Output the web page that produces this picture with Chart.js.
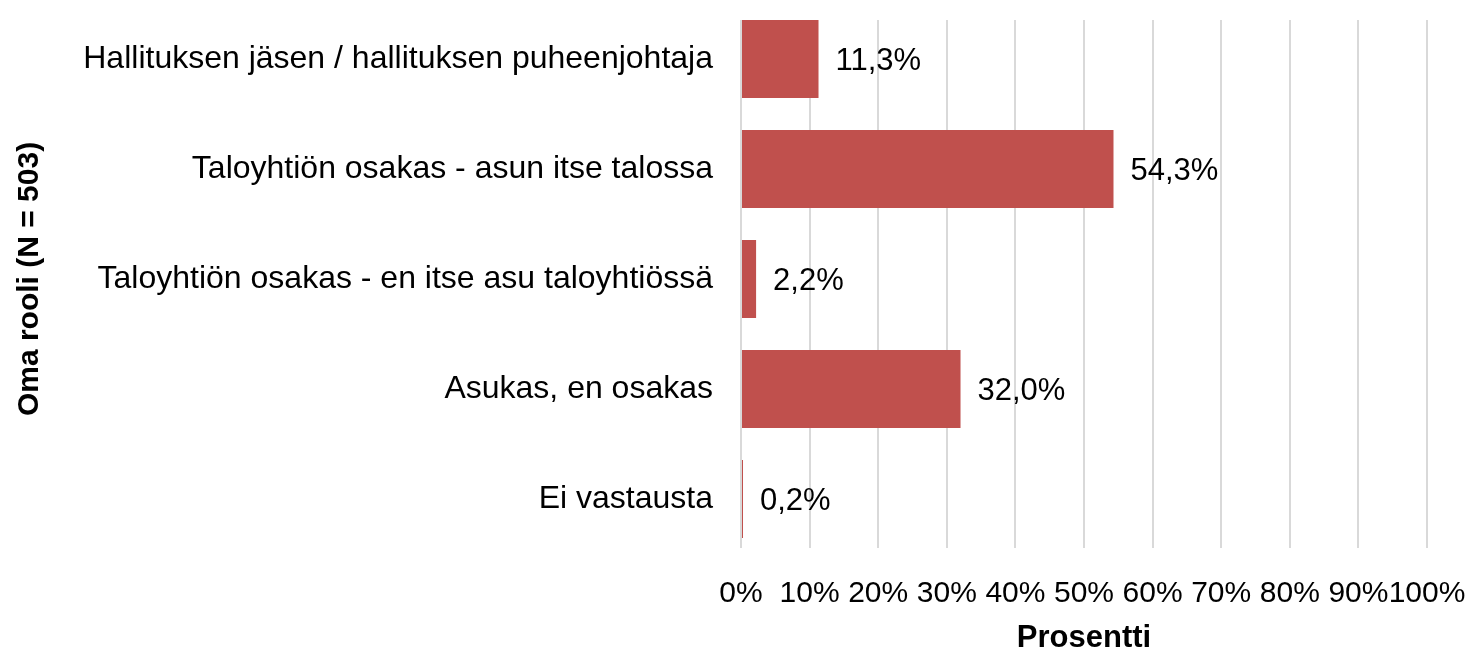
<!DOCTYPE html>
<html>
<head>
<meta charset="utf-8">
<script src="https://cdn.jsdelivr.net/npm/chart.js@4.4.1/dist/chart.umd.min.js"></script>
<style>
  html, body { margin: 0; padding: 0; background: #fff; }
  #wrap { width: 1478px; height: 650px; }
</style>
</head>
<body>
<div id="wrap"><canvas id="roleChart" width="1478" height="650"></canvas></div>
<script>
const categories = [
    "Hallituksen jäsen / hallituksen puheenjohtaja",
    "Taloyhtiön osakas - asun itse talossa",
    "Taloyhtiön osakas - en itse asu taloyhtiössä",
    "Asukas, en osakas",
    "Ei vastausta"
]
const percentValues = [11.3, 54.3, 2.2, 32.0, 0.2]
const tickValues = [0, 10, 20, 30, 40, 50, 60, 70, 80, 90, 100]

const barColor = "#c0504d"
const gridColor = "#d9d9d9"

function formatPercent (value) {
    return value.toFixed(1).replace(".", ",") + "%"
}

// draws the value next to the end of each bar
const valueLabels = {
    id: "valueLabels",
    afterDatasetsDraw(chart) {
        const ctx = chart.ctx
        const meta = chart.getDatasetMeta(0)
        ctx.save()
        ctx.font = "31px 'Liberation Sans', Arial, sans-serif"
        ctx.fillStyle = "#000"
        ctx.textAlign = "left"
        ctx.textBaseline = "middle"
        meta.data.forEach((bar, i) => {
            ctx.fillText(formatPercent(percentValues[i]), bar.x + 17, bar.y + 2)
        })
        ctx.restore()
    }
}

// gridlines in the reference stop a little short of the category band
const trimGrid = {
    id: "trimGrid",
    beforeDatasetsDraw(chart) {
        const { ctx, chartArea } = chart
        ctx.save()
        ctx.fillStyle = "#fff"
        ctx.fillRect(chartArea.left - 2, chartArea.top, chartArea.width + 4, 16)
        ctx.fillRect(chartArea.left - 2, chartArea.bottom - 6, chartArea.width + 4, 6)
        ctx.restore()
    }
}

// keep the plot area where the reference has it
function noScalePadding (scale) {
    scale.paddingLeft = 0
    scale.paddingRight = 0
    scale.paddingTop = 0
    scale.paddingBottom = 0
}

Chart.defaults.font.family = "'Liberation Sans', Arial, sans-serif"
Chart.defaults.color = "#000"

new Chart(document.getElementById("roleChart"), {
    type: "bar",
    data: {
        labels: categories,
        datasets: [{
            data: percentValues,
            backgroundColor: barColor,
            borderWidth: 0,
            minBarLength: 2,
            categoryPercentage: 1,
            barPercentage: 0.71
        }]
    },
    options: {
        indexAxis: "y",
        responsive: false,
        animation: false,
        layout: { padding: { top: 4, right: 51, left: 0, bottom: 0 } },
        plugins: {
            legend: { display: false },
            tooltip: { enabled: false }
        },
        scales: {
            x: {
                min: 0,
                max: 100,
                afterBuildTicks: (scale) => { scale.ticks = tickValues.map(v => ({ value: v })) },
                afterFit: (scale) => { scale.height = 96; noScalePadding(scale) },
                grid: { color: gridColor, lineWidth: 2, drawTicks: false },
                border: { display: false },
                ticks: {
                    padding: 22,
                    font: { size: 30 },
                    maxRotation: 0,
                    autoSkip: false,
                    callback: (value) => value + "%"
                },
                title: {
                    display: true,
                    text: "Prosentti",
                    font: { size: 31, weight: "bold", lineHeight: 1 },
                    padding: { top: 0, bottom: -4 }
                }
            },
            y: {
                afterFit: (scale) => { scale.width = 741; noScalePadding(scale) },
                grid: { display: false, drawTicks: false },
                border: { display: false },
                ticks: {
                    padding: 28,
                    font: { size: 32 },
                    autoSkip: false
                },
                title: {
                    display: true,
                    text: "Oma rooli (N = 503)",
                    font: { size: 30, weight: "bold" },
                    padding: { top: 12, bottom: 0 }
                }
            }
        }
    },
    plugins: [trimGrid, valueLabels]
})
</script>
</body>
</html>
